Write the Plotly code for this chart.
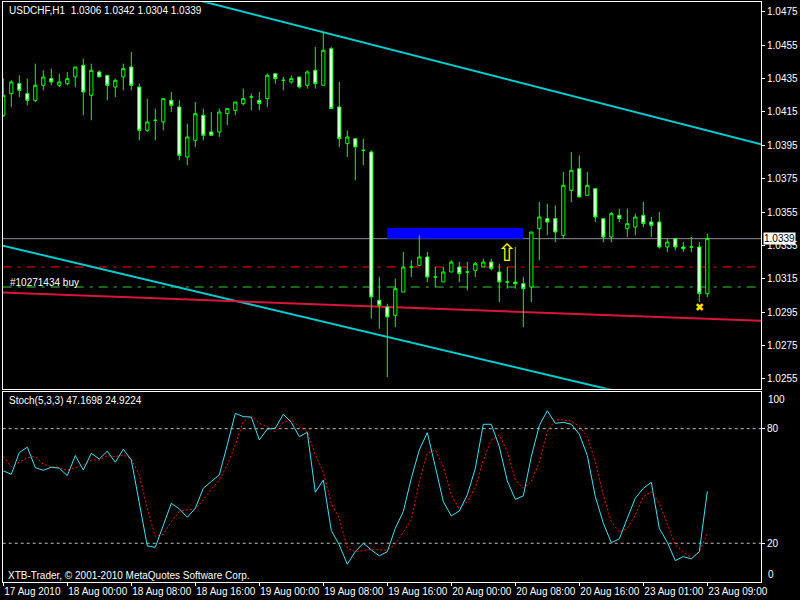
import plotly.graph_objects as go

# ---------------- data ----------------
bar_index = list(range(89))  # hourly bars, 17 Aug 2010 16:00 ... 23 Aug 2010 09:00

opens = [1.0413, 1.0426, 1.0432, 1.0426, 1.0422, 1.0431, 1.0435, 1.0431, 1.0432, 1.0436,
         1.0443, 1.0425, 1.0439, 1.0437, 1.0430, 1.0436, 1.0442, 1.0430, 1.0404, 1.0410,
         1.0409, 1.0422, 1.0418, 1.0388, 1.0398, 1.0413, 1.0403, 1.0403, 1.0414, 1.0416,
         1.0420, 1.0424, 1.0422, 1.0423, 1.0438, 1.0434, 1.0433, 1.0436, 1.0431, 1.0440,
         1.0431, 1.0453, 1.0418, 1.0396, 1.0399, 1.0392, 1.0391, 1.0302, 1.0298, 1.0293,
         1.0307, 1.0322, 1.0323, 1.0328, 1.0316, 1.0313, 1.0319, 1.0322, 1.0319, 1.0320,
         1.0322, 1.0325, 1.0319, 1.0313, 1.0313, 1.0312, 1.0310, 1.0345, 1.0351, 1.0351,
         1.0341, 1.0368, 1.0381, 1.0365, 1.0369, 1.0351, 1.0340, 1.0353, 1.0345, 1.0346,
         1.0353, 1.0349, 1.0349, 1.0334, 1.0339, 1.0334, 1.0334, 1.0334, 1.0306]
highs = [1.0435, 1.0434, 1.0437, 1.0435, 1.0444, 1.0440, 1.0441, 1.0438, 1.0439, 1.0442,
         1.0447, 1.0444, 1.0440, 1.0437, 1.0435, 1.0444, 1.0451, 1.0432, 1.0423, 1.0417,
         1.0423, 1.0427, 1.0422, 1.0408, 1.0421, 1.0417, 1.0415, 1.0417, 1.0417, 1.0421,
         1.0429, 1.0426, 1.0427, 1.0438, 1.0438, 1.0436, 1.0437, 1.0436, 1.0440, 1.0454,
         1.0463, 1.0454, 1.0433, 1.0404, 1.0399, 1.0399, 1.0392, 1.0316, 1.0300, 1.0315,
         1.0331, 1.0326, 1.0341, 1.0331, 1.0322, 1.0322, 1.0326, 1.0325, 1.0325, 1.0325,
         1.0327, 1.0327, 1.0324, 1.0322, 1.0334, 1.0316, 1.0343, 1.0361, 1.0360, 1.0359,
         1.0379, 1.0391, 1.0389, 1.0379, 1.0369, 1.0351, 1.0355, 1.0357, 1.0357, 1.0354,
         1.0361, 1.0352, 1.0355, 1.0339, 1.0339, 1.0337, 1.0340, 1.0337, 1.0342]
lows = [1.0412, 1.0418, 1.0424, 1.0419, 1.0421, 1.0428, 1.0431, 1.0430, 1.0431, 1.0430,
        1.0413, 1.0410, 1.0436, 1.0422, 1.0424, 1.0428, 1.0428, 1.0398, 1.0403, 1.0398,
        1.0404, 1.0415, 1.0386, 1.0383, 1.0394, 1.0398, 1.0401, 1.0400, 1.0407, 1.0413,
        1.0419, 1.0416, 1.0416, 1.0418, 1.0432, 1.0428, 1.0432, 1.0429, 1.0429, 1.0429,
        1.0431, 1.0417, 1.0394, 1.0388, 1.0374, 1.0383, 1.0291, 1.0285, 1.0256, 1.0286,
        1.0307, 1.0316, 1.0323, 1.0313, 1.0310, 1.0313, 1.0319, 1.0313, 1.0308, 1.0316,
        1.0322, 1.0320, 1.0301, 1.0309, 1.0309, 1.0286, 1.0301, 1.0326, 1.0341, 1.0337,
        1.0339, 1.0361, 1.0364, 1.0365, 1.0349, 1.0337, 1.0337, 1.0349, 1.0340, 1.0341,
        1.0346, 1.0340, 1.0333, 1.0331, 1.0332, 1.0331, 1.0331, 1.0301, 1.0304]
closes = [1.0425, 1.0433, 1.0428, 1.0422, 1.0431, 1.0436, 1.0433, 1.0433, 1.0435, 1.0442,
          1.0427, 1.0440, 1.0436, 1.0431, 1.0434, 1.0441, 1.0431, 1.0404, 1.0409, 1.0410,
          1.0423, 1.0419, 1.0389, 1.0400, 1.0414, 1.0401, 1.0401, 1.0415, 1.0417, 1.0421,
          1.0423, 1.0424, 1.0420, 1.0437, 1.0435, 1.0434, 1.0435, 1.0430, 1.0439, 1.0432,
          1.0452, 1.0417, 1.0399, 1.0400, 1.0394, 1.0392, 1.0304, 1.0299, 1.0292, 1.0309,
          1.0322, 1.0322, 1.0328, 1.0316, 1.0316, 1.0319, 1.0325, 1.0318, 1.0319, 1.0324,
          1.0325, 1.0321, 1.0313, 1.0313, 1.0312, 1.0309, 1.0343, 1.0352, 1.0349, 1.0343,
          1.0371, 1.0380, 1.0364, 1.0371, 1.0352, 1.0340, 1.0354, 1.0351, 1.0348, 1.0352,
          1.0348, 1.0347, 1.0334, 1.0337, 1.0334, 1.0333, 1.0334, 1.0306, 1.0339]

stoch_k = [57.9, 56.1, 67.5, 70.3, 59.6, 58.2, 59.8, 59.3, 55.4, 65.9,
           58.4, 67.1, 64.1, 68.2, 62.4, 69.2, 63.6, 41.8, 18.6, 17.9,
           29.6, 40.9, 38.0, 33.6, 38.3, 48.8, 52.3, 55.8, 71.5, 88.0,
           86.3, 86.1, 74.1, 79.8, 80.2, 87.5, 83.3, 75.8, 78.1, 46.7,
           53.1, 26.6, 19.1, 9.0, 15.6, 20.0, 16.5, 13.4, 15.6, 27.8,
           36.6, 54.0, 68.9, 77.9, 60.1, 41.8, 34.3, 36.9, 45.3, 59.2,
           82.3, 82.3, 70.6, 52.6, 43.0, 44.8, 65.4, 81.6, 89.4, 82.8,
           83.3, 82.3, 77.1, 65.9, 44.4, 30.5, 20.3, 22.3, 33.1, 43.6,
           48.8, 51.9, 27.8, 20.5, 10.9, 13.0, 11.8, 15.6, 47.1698]
stoch_d = [65.4, 60.1, 62.4, 64.8, 65.4, 61.4, 60.1, 59.6, 58.2, 59.6,
           61.0, 63.6, 63.6, 65.9, 65.4, 66.2, 64.1, 55.8, 38.3, 23.5,
           24.7, 31.3, 36.6, 37.4, 38.0, 42.7, 48.4, 53.1, 61.0, 71.5,
           83.7, 86.8, 82.8, 81.1, 78.4, 83.3, 84.6, 81.1, 78.4, 66.2,
           57.2, 40.9, 33.1, 17.4, 15.6, 16.1, 17.0, 16.5, 16.5, 19.5,
           26.1, 32.2, 52.3, 67.1, 68.9, 60.1, 45.3, 38.0, 41.8, 49.1,
           63.6, 74.1, 76.7, 68.0, 53.1, 48.8, 52.3, 62.7, 78.4, 84.6,
           84.6, 84.0, 81.1, 75.8, 62.7, 45.3, 31.3, 25.8, 27.8, 34.8,
           44.4, 47.0, 40.9, 29.6, 19.1, 15.6, 12.1, 15.6, 24.9224]

tick_bars = [0, 8, 16, 24, 32, 40, 48, 56, 64, 72, 80, 88]
tick_labels = ["17 Aug 2010", "18 Aug 00:00", "18 Aug 08:00", "18 Aug 16:00",
               "19 Aug 00:00", "19 Aug 08:00", "19 Aug 16:00", "20 Aug 00:00",
               "20 Aug 08:00", "20 Aug 16:00", "23 Aug 01:00", "23 Aug 09:00"]
price_ticks = [1.0255, 1.0275, 1.0295, 1.0315, 1.0335, 1.0355,
               1.0375, 1.0395, 1.0415, 1.0435, 1.0455, 1.0475]
stoch_levels = [20, 80]
stoch_min, stoch_max = 0, 100

# chart objects (bar index, price)
upper_channel_t = [20, 100]
upper_channel_p = [1.04874, 1.03892]
lower_channel_t = [-1, 80]
lower_channel_p = [1.03359, 1.02437]
red_trend_t = [-1, 96]
red_trend_p = [1.03068, 1.02895]
rect_t = [48, 65]
rect_p = [1.0339, 1.03454]
bid_price = 1.0339
order_price = 1.0310
order_label = "#10271434 buy"
level_red_price = 1.0322
arrow_t, arrow_p = 63, 1.0339
cross_t, cross_p = 87, 1.0298

title_text = "USDCHF,H1  1.0306 1.0342 1.0304 1.0339"
stoch_title = "Stoch(5,3,3) 47.1698 24.9224"
copyright_text = "XTB-Trader, © 2001-2010 MetaQuotes Software Corp."

# ---------------- figure ----------------
FONT = "Liberation Sans"
X_RANGE = [-0.075, 94.71]
X_DOM = [2.7 / 800, 761 / 800]
MAIN_DOM = [1 - 388.7 / 600, 1 - 2.3 / 600]
STOCH_DOM = [1 - 582 / 600, 1 - 392 / 600]
GREEN = "#00FF00"

fig = go.Figure()

fig.add_trace(go.Candlestick(
    x=bar_index, open=opens, high=highs, low=lows, close=closes,
    increasing=dict(line=dict(color=GREEN, width=1), fillcolor="black"),
    decreasing=dict(line=dict(color=GREEN, width=1), fillcolor="white"),
    whiskerwidth=0, xaxis="x", yaxis="y", hoverinfo="skip", showlegend=False))

fig.add_trace(go.Scatter(
    x=bar_index, y=stoch_d, mode="lines", xaxis="x2", yaxis="y2",
    line=dict(color="#FF0000", width=1, dash="2px,2px"), hoverinfo="skip", showlegend=False))
fig.add_trace(go.Scatter(
    x=bar_index, y=stoch_k, mode="lines", xaxis="x2", yaxis="y2",
    line=dict(color="#3FE3F2", width=1), hoverinfo="skip", showlegend=False))

shapes = []
shapes.append(dict(type="rect", xref="x", yref="y", x0=rect_t[0], x1=rect_t[1],
                   y0=rect_p[0], y1=rect_p[1], fillcolor="#0000FF", line=dict(width=0),
                   layer="below"))
shapes.append(dict(type="line", xref="x domain", yref="y", x0=0, x1=1,
                   y0=level_red_price, y1=level_red_price,
                   line=dict(color="#FF0000", width=1, dash="9px,6px,3px,6px"), layer="below"))
shapes.append(dict(type="line", xref="x domain", yref="y", x0=0, x1=1,
                   y0=order_price, y1=order_price,
                   line=dict(color="#32CD32", width=1, dash="9px,6px,3px,6px"), layer="below"))
shapes.append(dict(type="line", xref="x domain", yref="y", x0=0, x1=1,
                   y0=bid_price, y1=bid_price,
                   line=dict(color="#8A8F96", width=1), layer="below"))
shapes.append(dict(type="line", xref="x", yref="y", x0=upper_channel_t[0], x1=upper_channel_t[1],
                   y0=upper_channel_p[0], y1=upper_channel_p[1],
                   line=dict(color="#00CED1", width=2), layer="below"))
shapes.append(dict(type="line", xref="x", yref="y", x0=lower_channel_t[0], x1=lower_channel_t[1],
                   y0=lower_channel_p[0], y1=lower_channel_p[1],
                   line=dict(color="#00CED1", width=2), layer="below"))
shapes.append(dict(type="line", xref="x", yref="y", x0=red_trend_t[0], x1=red_trend_t[1],
                   y0=red_trend_p[0], y1=red_trend_p[1],
                   line=dict(color="#DC143C", width=2), layer="below"))
for lv in stoch_levels:
    shapes.append(dict(type="line", xref="x2 domain", yref="y2", x0=0, x1=1, y0=lv, y1=lv,
                       line=dict(color="#C0C0C0", width=1, dash="3px,3px"), layer="below"))

annotations = [
    dict(text=title_text, xref="paper", yref="paper", x=6.5 / 800, y=1 - 10.7 / 600,
         xanchor="left", yanchor="middle", showarrow=False,
         font=dict(family=FONT, size=10, color="white")),
    dict(text=stoch_title, xref="paper", yref="paper", x=6.5 / 800, y=1 - 400.3 / 600,
         xanchor="left", yanchor="middle", showarrow=False,
         font=dict(family=FONT, size=10, color="white")),
    dict(text=copyright_text, xref="paper", yref="paper", x=6 / 800, y=1 - 575 / 600,
         xanchor="left", yanchor="middle", showarrow=False,
         font=dict(family=FONT, size=10, color="white")),
    dict(text=order_label, xref="paper", yref="y", x=7.5 / 800, y=order_price, yshift=5,
         xanchor="left", yanchor="middle", showarrow=False,
         font=dict(family=FONT, size=10, color="white")),
    dict(text=f"{bid_price:.4f}", xref="paper", yref="y", x=762.5 / 800, y=bid_price,
         xanchor="left", yanchor="middle", showarrow=False, bgcolor="white", borderpad=0,
         font=dict(family=FONT, size=10, color="black")),
    dict(text=str(stoch_max), xref="paper", yref="paper", x=766 / 800, y=STOCH_DOM[1],
         yanchor="top", xanchor="left", showarrow=False,
         font=dict(family=FONT, size=10, color="white")),
    dict(text=str(stoch_min), xref="paper", yref="paper", x=766 / 800, y=STOCH_DOM[0],
         yanchor="bottom", xanchor="left", showarrow=False,
         font=dict(family=FONT, size=10, color="white")),
    dict(text="⇧", xref="x", yref="y", x=arrow_t, y=arrow_p, xanchor="center", yanchor="top",
         yshift=2, showarrow=False, font=dict(family="DejaVu Sans", size=24, color="#FFFF00")),
    dict(text="✖", xref="x", yref="y", x=cross_t, y=cross_p, xanchor="center", yanchor="middle",
         showarrow=False, font=dict(family="DejaVu Sans", size=11, color="#FFE000")),
]

axis_common = dict(showgrid=False, zeroline=False, showline=True, linecolor="white",
                   linewidth=1, mirror=True, tickcolor="white", automargin=False,
                   tickfont=dict(family=FONT, size=10, color="white"))

fig.update_layout(
    width=800, height=600,
    margin=dict(l=0, r=0, t=0, b=0, pad=0),
    paper_bgcolor="black", plot_bgcolor="black",
    showlegend=False, boxgap=0.42,
    shapes=shapes, annotations=annotations,
    xaxis=dict(domain=X_DOM, range=X_RANGE, anchor="y", showticklabels=False, ticks="",
               rangeslider=dict(visible=False), **axis_common),
    yaxis=dict(domain=MAIN_DOM, range=[1.02490, 1.04808], anchor="x", side="right",
               tickvals=price_ticks, tickformat=".4f", ticks="outside", ticklen=3,
               **axis_common),
    xaxis2=dict(domain=X_DOM, range=X_RANGE, anchor="y2", matches="x",
                tickvals=tick_bars, ticktext=tick_labels, ticks="outside", ticklen=3,
                tickangle=0, ticklabelposition="outside right", **axis_common),
    yaxis2=dict(domain=STOCH_DOM, range=[-0.3, 99.2], anchor="x2", side="right",
                tickvals=stoch_levels, ticks="outside", ticklen=3, **axis_common),
)

fig.write_html("out.html", config={"displayModeBar": False},
               post_script="document.body.style.margin='0';document.body.style.overflow='hidden';")
